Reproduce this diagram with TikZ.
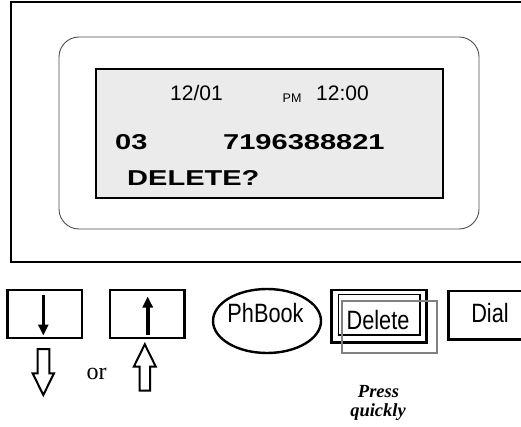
\documentclass[tikz,border=0pt]{standalone}
\usepackage{fontspec}
\setmainfont{Liberation Sans}
\newfontfamily\lcdbold[FakeStretch=1.35]{Liberation Sans Bold}
\newfontfamily\narrowsans[FakeStretch=0.82]{Liberation Sans}
\newfontfamily\serifrm{Liberation Serif}
\newfontfamily\serifbi{Liberation Serif Bold Italic}
\usetikzlibrary{arrows.meta,shapes.geometric}
\definecolor{lcdgray}{HTML}{EBEBEB}
\definecolor{btngray}{HTML}{808080}
\tikzset{
  thickbox/.style={draw=black, line width=2.6pt},
  lcdreg/.style={inner sep=0pt, anchor=base west, font=\fontsize{21}{24}\selectfont},
  lcdbig/.style={inner sep=0pt, anchor=base west, font=\lcdbold\fontsize{21.5}{24}\selectfont},
  btntext/.style={inner sep=0pt, anchor=base, font=\narrowsans\fontsize{26.5}{30}\selectfont},
  hollow/.style={draw=black, line width=2pt, fill=white, line join=miter},
  solidarrow/.style={draw=black, line width=3.6pt, -{Triangle[length=11pt,width=10pt]}, shorten >=0pt},
}
\begin{document}
\begin{tikzpicture}[x=1pt, y=-1pt]
\useasboundingbox (0,0) rectangle (521,427);
% casing
\draw[line width=2.4pt] (11,2) rectangle (540,262);
\draw[draw=black!70, line width=0.9pt, rounded corners=20pt] (59,37) rectangle (479,229);
\draw[line width=2.4pt, fill=lcdgray] (96,69) rectangle (443,198);
% LCD text
\node[lcdreg] (date) at (170,101) {12/01};
\node[lcdreg, font=\fontsize{12.5}{14}\selectfont] (pm) at (282.5,103) {PM};
\node[lcdreg] (time) at (316,101) {12:00};
\node[lcdbig] (num) at (115,150) {03};
\node[lcdbig] (phone) at (223,150) {7196388821};
\node[lcdbig] (del) at (127,186) {DELETE?};
% down / up keys
\node[thickbox, minimum width=74.7pt, minimum height=48pt, inner sep=0pt] (downkey) at (44.65,314) {};
\node[thickbox, minimum width=74.3pt, minimum height=48pt, inner sep=0pt] (upkey) at (147.15,314) {};
\coordinate (dtop) at (43.3,295);
\coordinate (dtip) at (43.3,335.5);
\draw[solidarrow] (dtop) -- (dtip);
\coordinate (ubot) at (147.7,335);
\coordinate (utip) at (147.7,296.5);
\draw[solidarrow] (ubot) -- (utip);
% hollow arrows
\draw[hollow] (37.5,349) -- (49.3,349) -- (49.3,373.3) -- (54,373.3) -- (43.3,395) -- (32.6,373.3) -- (37.5,373.3) -- cycle;
\draw[hollow] (139.5,390.7) -- (150,390.7) -- (150,366.7) -- (155.8,366.7) -- (144.8,344.3) -- (133.8,366.7) -- (139.5,366.7) -- cycle;
\node[inner sep=0pt, anchor=base west, font=\serifrm\fontsize{24}{26}\selectfont] (or) at (86.5,379) {or};
% phone book
\node[draw=black, line width=2.4pt, ellipse, minimum width=108pt, minimum height=64pt, inner sep=0pt] (phbook) at (267,321) {};
\node[btntext] (phtext) at (265.5,322) {PhBook};
% delete
\draw[line width=2.6pt] (331.7,290) rectangle (426.7,342.3);
\draw[line width=1.1pt] (338.3,294.3) rectangle (420,335);
\draw[draw=btngray, line width=2pt] (342.3,300.7) rectangle (437.3,352.7);
\node[btntext] (deltext) at (378,329.5) {Delete};
% dial
\draw[line width=2.6pt] (448.3,291) rectangle (540,339.3);
\node[btntext] (dial) at (490,322.5) {Dial};
% press quickly
\node[inner sep=0pt, anchor=base, font=\serifbi\fontsize{18.5}{19}\selectfont] (press) at (378.5,397.7) {Press};
\node[inner sep=0pt, anchor=base, font=\serifbi\fontsize{18.5}{19}\selectfont] (quick) at (378,416.7) {quickly};
\end{tikzpicture}
\end{document}
